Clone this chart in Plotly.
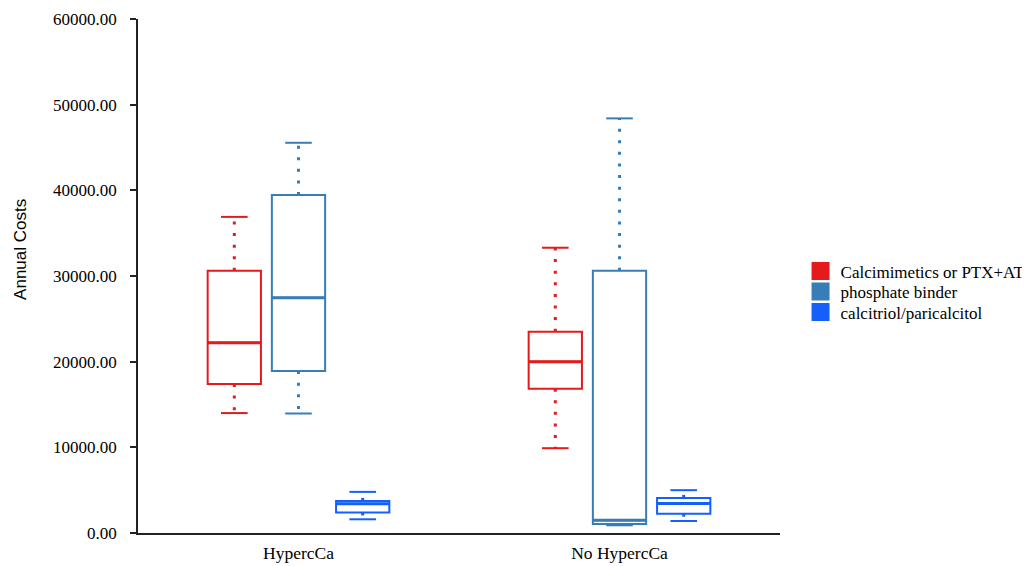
import plotly.graph_objects as go

categories = ["HypercCa", "No HypercCa"]
series_names = ["Calcimimetics or PTX+AT", "phosphate binder", "calcitriol/paricalcitol"]
series_colors = ["#e41a1c", "#377eb8", "#1560fa"]

lower_fence = [[14000, 9900], [13950, 900], [1600, 1400]]
q1_values = [[17400, 16850], [18900, 1050], [2400, 2250]]
median_values = [[22200, 20000], [27450, 1500], [3400, 3450]]
q3_values = [[30600, 23500], [39450, 30600], [3750, 4100]]
upper_fence = [[36900, 33300], [45550, 48400], [4800, 5000]]

y_tick_values = [0, 10000, 20000, 30000, 40000, 50000, 60000]
y_title = "Annual Costs"

SERIF = "Liberation Serif"
SANS = "Liberation Sans"

legend_ids = ["legend", "legend2", "legend3"]
legend_y = [0.509, 0.469, 0.429]

fig = go.Figure()

for i, name in enumerate(series_names):
    color = series_colors[i]
    grp = f"g{i}"
    # box body (whiskers drawn separately as dotted lines)
    fig.add_trace(go.Box(
        x=categories, q1=q1_values[i], median=median_values[i], q3=q3_values[i],
        lowerfence=q1_values[i], upperfence=q3_values[i],
        name=name, showlegend=False, offsetgroup=grp, alignmentgroup="a",
        line=dict(color=color, width=2), fillcolor="rgba(255,255,255,0)",
        whiskerwidth=0, boxpoints=False, hoverinfo="skip",
    ))
    # dotted whiskers
    wx, wy = [], []
    for c, lo, a, b, hi in zip(categories, lower_fence[i], q1_values[i], q3_values[i], upper_fence[i]):
        wx += [c, c, None, c, c, None]
        wy += [b, hi, None, a, lo, None]
    fig.add_trace(go.Scatter(
        x=wx, y=wy, mode="lines", orientation="v",
        line=dict(color=color, width=3, dash="3px,8.6px"),
        offsetgroup=grp, alignmentgroup="a", showlegend=False, hoverinfo="skip",
    ))
    # whisker caps
    fig.add_trace(go.Scatter(
        x=categories + categories, y=lower_fence[i] + upper_fence[i],
        mode="markers", orientation="v",
        marker=dict(symbol="line-ew", size=19, line=dict(color=color, width=2)),
        offsetgroup=grp, alignmentgroup="a", showlegend=False, hoverinfo="skip",
    ))
    # thicker median line
    fig.add_trace(go.Scatter(
        x=categories, y=median_values[i], mode="markers", orientation="v",
        marker=dict(symbol="line-ew", size=38, line=dict(color=color, width=3)),
        offsetgroup=grp, alignmentgroup="a", showlegend=False, hoverinfo="skip",
    ))
    # legend entry
    fig.add_trace(go.Scatter(
        x=[None], y=[None], mode="markers", name=name, orientation="v",
        marker=dict(symbol="square", size=16, color=color, line=dict(color=color, width=2)),
        offsetgroup=grp, alignmentgroup="a", showlegend=True, legend=legend_ids[i],
    ))

legend_common = dict(
    x=1.032, xanchor="left", yanchor="middle",
    font=dict(family=SERIF, size=17, color="black"),
    itemwidth=30, bgcolor="rgba(255,255,255,0)",
)

fig.update_layout(
    width=1040, height=560,
    margin=dict(l=130, r=268, t=11, b=35),
    paper_bgcolor="white", plot_bgcolor="white",
    boxmode="group", boxgap=0.4, boxgroupgap=0.17,
    scattermode="group", scattergap=0.4,
    font=dict(family=SERIF, size=17, color="black"),
    legend=dict(y=legend_y[0], **legend_common),
    legend2=dict(y=legend_y[1], **legend_common),
    legend3=dict(y=legend_y[2], **legend_common),
    showlegend=True,
    annotations=[dict(
        text=y_title, textangle=-90, xref="paper", yref="paper",
        x=-0.184, y=0.5525, xanchor="center", yanchor="middle", showarrow=False,
        font=dict(family=SANS, size=17, color="black"),
    )],
)

fig.update_xaxes(
    type="category", categoryorder="array", categoryarray=categories,
    showline=True, linecolor="#222222", linewidth=1.5, ticks="",
    ticklabelstandoff=3, automargin=False,
    showgrid=False, zeroline=False,
    tickfont=dict(family=SERIF, size=17.5, color="black"),
)
fig.update_yaxes(
    range=[0, 60000], tickvals=y_tick_values, tickformat=".2f",
    showline=True, linecolor="#222222", linewidth=1.5,
    ticks="outside", ticklen=6, tickcolor="#222222", tickwidth=1.5,
    ticklabelstandoff=10, automargin=False,
    showgrid=False, zeroline=False,
    tickfont=dict(family=SERIF, size=17, color="black"),
)

fig.write_html("out.html")
